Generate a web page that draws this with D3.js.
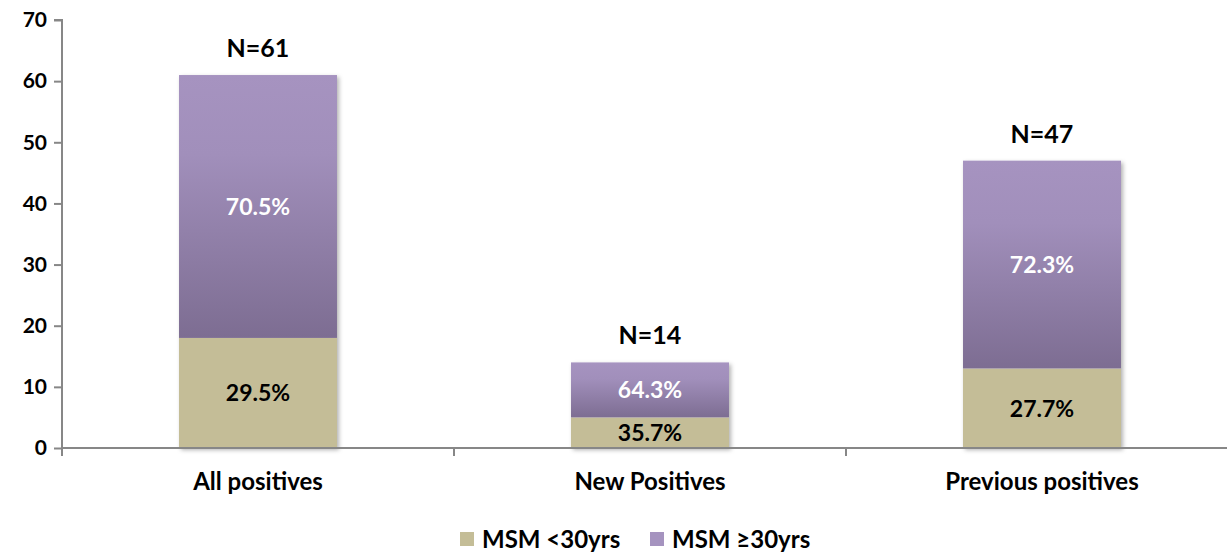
<!DOCTYPE html>
<html><head><meta charset="utf-8">
<script src="https://cdn.jsdelivr.net/npm/d3@7"></script>
<style>
html,body{margin:0;padding:0;background:#fff;}
text{font-family:Lato,"Open Sans",sans-serif;font-weight:bold;}
</style></head>
<body><svg id="c" width="1227" height="552"></svg>
<script>
const categories = ["All positives","New Positives","Previous positives"];
const under30 = [18,5,13];
const over30 = [43,9,34];
const under30Pct = ["29.5%","35.7%","27.7%"];
const over30Pct = ["70.5%","64.3%","72.3%"];
const totalLabels = ["N=61","N=14","N=47"];
const seriesNames = ["MSM <30yrs","MSM \u226530yrs"];
const yTicks = [0,10,20,30,40,50,60,70];

(function(){
const svg = d3.select("#c");
const defs = svg.append("defs");
const g1 = defs.append("linearGradient").attr("id","pg").attr("x1",0).attr("y1",0).attr("x2",0).attr("y2",1);
g1.append("stop").attr("offset","0%").attr("stop-color","#a693c0");
g1.append("stop").attr("offset","30%").attr("stop-color","#a18fbb");
g1.append("stop").attr("offset","100%").attr("stop-color","#7d6d92");
const f = defs.append("filter").attr("id","sh").attr("x","-10%").attr("y","-10%").attr("width","130%").attr("height","130%");
f.append("feDropShadow").attr("dx",2).attr("dy",2).attr("stdDeviation",2).attr("flood-color","#000").attr("flood-opacity",0.3);

const pl = 62, pr = 1238, pt = 20, pb = 448;
const x = d3.scaleBand().domain(categories).range([pl,pr]).paddingInner(0.597).paddingOuter(0.2985);
const y = d3.scaleLinear().domain([0,70]).range([pb,pt]);

const yAxis = d3.axisLeft(y).tickValues(yTicks).tickSize(8).tickPadding(7);
const ya = svg.append("g").attr("transform",`translate(${pl},0)`).call(yAxis);
ya.select(".domain").attr("stroke","#878787").attr("stroke-width",2).attr("d",`M-8,${pt}H0V${pb}`);
ya.selectAll(".tick line").attr("stroke","#878787").attr("stroke-width",2);
ya.selectAll(".tick text").attr("font-size",21).attr("fill","#000").attr("font-family","Lato, sans-serif").attr("font-weight","bold");

const bars = svg.append("g");
categories.forEach((c,i)=>{
  const bx = x(c), bw = x.bandwidth();
  bars.append("rect").attr("x",bx).attr("width",bw)
    .attr("y",y(under30[i]+over30[i])).attr("height",y(0)-y(under30[i]+over30[i]))
    .attr("fill","#fff").attr("filter","url(#sh)");
  bars.append("rect").attr("x",bx).attr("width",bw)
    .attr("y",y(under30[i])).attr("height",y(0)-y(under30[i])).attr("fill","#c4bd97");
  bars.append("rect").attr("x",bx).attr("width",bw)
    .attr("y",y(under30[i]+over30[i])).attr("height",y(under30[i])-y(under30[i]+over30[i])).attr("fill","url(#pg)");
  const cx = bx+bw/2;
  svg.append("text").attr("x",cx).attr("y",(y(0)+y(under30[i]))/2).attr("dy","0.36em")
    .attr("text-anchor","middle").attr("font-size",23).attr("fill","#000").text(under30Pct[i]);
  svg.append("text").attr("x",cx).attr("y",(y(under30[i])+y(under30[i]+over30[i]))/2).attr("dy","0.36em")
    .attr("text-anchor","middle").attr("font-size",23).attr("fill","#fff").text(over30Pct[i]);
  svg.append("text").attr("x",cx).attr("y",y(under30[i]+over30[i])-27).attr("dy","0.36em")
    .attr("text-anchor","middle").attr("font-size",25).attr("fill","#000").text(totalLabels[i]);
});

const xAxis = d3.axisBottom(x).tickSize(0).tickPadding(25);
const xa = svg.append("g").attr("transform",`translate(0,${pb})`).call(xAxis);
xa.select(".domain").attr("stroke","#878787").attr("stroke-width",2).attr("d",`M${pl},0H${pr}`);
xa.selectAll(".tick text").attr("font-size",24).attr("fill","#000").attr("font-family","Lato, sans-serif").attr("font-weight","bold");
const seps = categories.map(c=>x(c)-x.step()*x.paddingOuter()).concat([pr]);
xa.selectAll(".sep").data(seps).enter().append("line").attr("x1",d=>d).attr("x2",d=>d).attr("y1",0).attr("y2",8)
  .attr("stroke","#878787").attr("stroke-width",2);

const legColors = ["#c4bd97","#a593bf"];
const legX = [460,650];
seriesNames.forEach((s,i)=>{
  svg.append("rect").attr("x",legX[i]).attr("y",532).attr("width",14).attr("height",14).attr("fill",legColors[i]);
  svg.append("text").attr("x",legX[i]+22).attr("y",539).attr("dy","0.36em").attr("font-size",24).attr("fill","#000").text(s);
});
})();
</script></body></html>
